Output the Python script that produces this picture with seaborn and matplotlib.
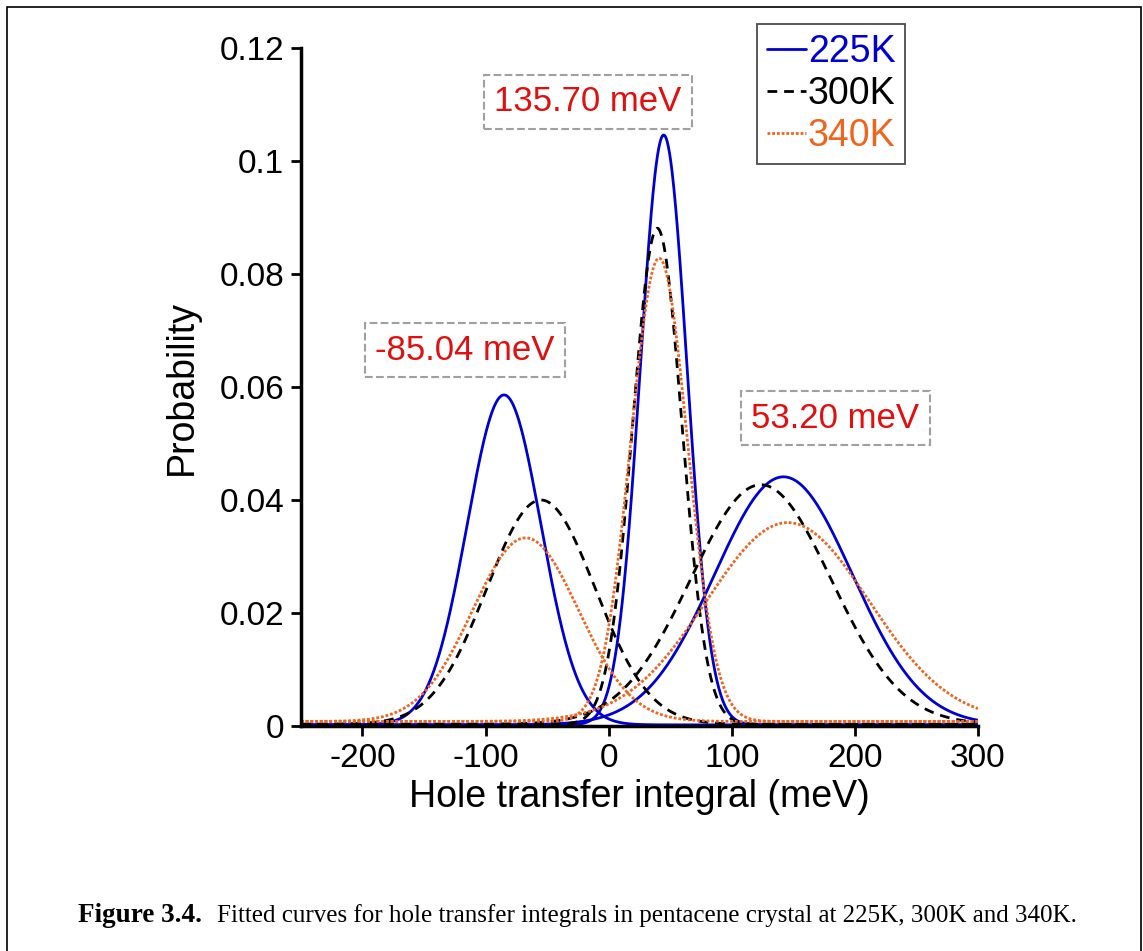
import matplotlib
matplotlib.use("Agg")
import matplotlib.pyplot as plt
import numpy as np
import pandas as pd
import seaborn as sns

# fitted gaussian parameters (three peaks per temperature)
temps = ['225K', '300K', '340K']
centers = {'225K': [-85, 44.7, 142], '300K': [-55, 39.5, 123.6], '340K': [-67.5, 41, 145.5]}
heights = {'225K': [0.0584, 0.1044, 0.0439], '300K': [0.0397, 0.0878, 0.0424], '340K': [0.0325, 0.0820, 0.0352]}
sigmas = {'225K': [30, 19, 56], '300K': [44, 20, 57], '340K': [43, 23, 66]}
baseline = {'225K': 0.0002, '300K': 0.0003, '340K': 0.0008}
peak_labels = ['-85.04 meV', '135.70 meV', '53.20 meV']

colors = {'225K': '#0000d2', '300K': '#000000', '340K': '#f0641e'}
dashes = {'225K': '', '300K': (3.5, 2.5), '340K': (1, 0.7)}

x = np.linspace(-250, 300, 1101)
rows = []
for t in temps:
    for k in range(3):
        y = baseline[t] + heights[t][k] * np.exp(-0.5 * ((x - centers[t][k]) / sigmas[t][k]) ** 2)
        rows.append(pd.DataFrame({'x': x, 'p': y, 'temp': t, 'peak': f'{t}_{k}'}))
df = pd.concat(rows, ignore_index=True)

sns.set_style('ticks')
plt.rcParams['font.family'] = ['Liberation Sans', 'DejaVu Sans']
plt.rcParams['axes.unicode_minus'] = False
plt.rcParams['text.color'] = 'black'
plt.rcParams['axes.labelcolor'] = 'black'
plt.rcParams['xtick.color'] = 'black'
plt.rcParams['ytick.color'] = 'black'

fig = plt.figure(figsize=(11.43, 9.51), dpi=100)
ax = fig.add_axes([0.2633, 0.2366, 0.5923, 0.7129])

sns.lineplot(data=df, x='x', y='p', hue='temp', style='temp', units='peak', estimator=None,
             palette=colors, dashes=dashes, linewidth=2, ax=ax, legend=False)

ax.set_xlim(-250, 300)
ax.set_ylim(0, 0.12)
ax.set_xticks([-200, -100, 0, 100, 200, 300])
ax.set_yticks([0, 0.02, 0.04, 0.06, 0.08, 0.1, 0.12])
ax.set_yticklabels(['0', '0.02', '0.04', '0.06', '0.08', '0.1', '0.12'])
ax.tick_params(labelsize=24, width=2, length=7, direction='out', color='black', labelcolor='black', pad=5)
for s in ['left', 'bottom']:
    ax.spines[s].set_linewidth(2.5)
    ax.spines[s].set_color('black')
sns.despine(ax=ax)
ax.set_xlabel('Hole transfer integral (meV)', fontsize=27, labelpad=4, color='black')
ax.set_ylabel('Probability', fontsize=27, labelpad=14, color='black')

# legend with coloured text
handles = [plt.Line2D([], [], color=colors[t], lw=2,
                      linestyle='-' if t == '225K' else ((0, (3.5, 2.5)) if t == '300K' else (0, (1, 0.7))))
           for t in temps]
leg = ax.legend(handles, temps, loc='upper right', bbox_to_anchor=(0.892, 1.035), fontsize=27,
                frameon=True, fancybox=False, handlelength=1.05, handletextpad=0.05,
                borderpad=0.25, labelspacing=0.17, borderaxespad=0)
leg.get_frame().set_edgecolor('#202020')
leg.get_frame().set_linewidth(1.3)
for txt, t in zip(leg.get_texts(), temps):
    txt.set_color(colors[t])

# peak value annotations
ann_pos = [(-117, 0.0665), (-17, 0.1105), (184, 0.0545)]
for lab, (px, py) in zip(peak_labels, ann_pos):
    ax.text(px, py, lab, fontsize=25, color='#e01010', ha='center', va='center',
            bbox=dict(boxstyle='square,pad=0.3', fc='white', ec='#a0a0a0', ls='--', lw=1.5))

# caption and frame
fig.text(0.068, 0.031, 'Figure 3.4.', fontsize=19.5, fontweight='bold', family='Liberation Serif', va='baseline')
fig.text(0.19, 0.031, 'Fitted curves for hole transfer integrals in pentacene crystal at 225K, 300K and 340K.',
         fontsize=18, family='Liberation Serif', va='baseline')
fig.patches.append(plt.Rectangle((0.006, -0.05), 0.992, 1.043, transform=fig.transFigure,
                                 fill=False, ec='black', lw=1.2))

fig.savefig('out.png', dpi=100)
